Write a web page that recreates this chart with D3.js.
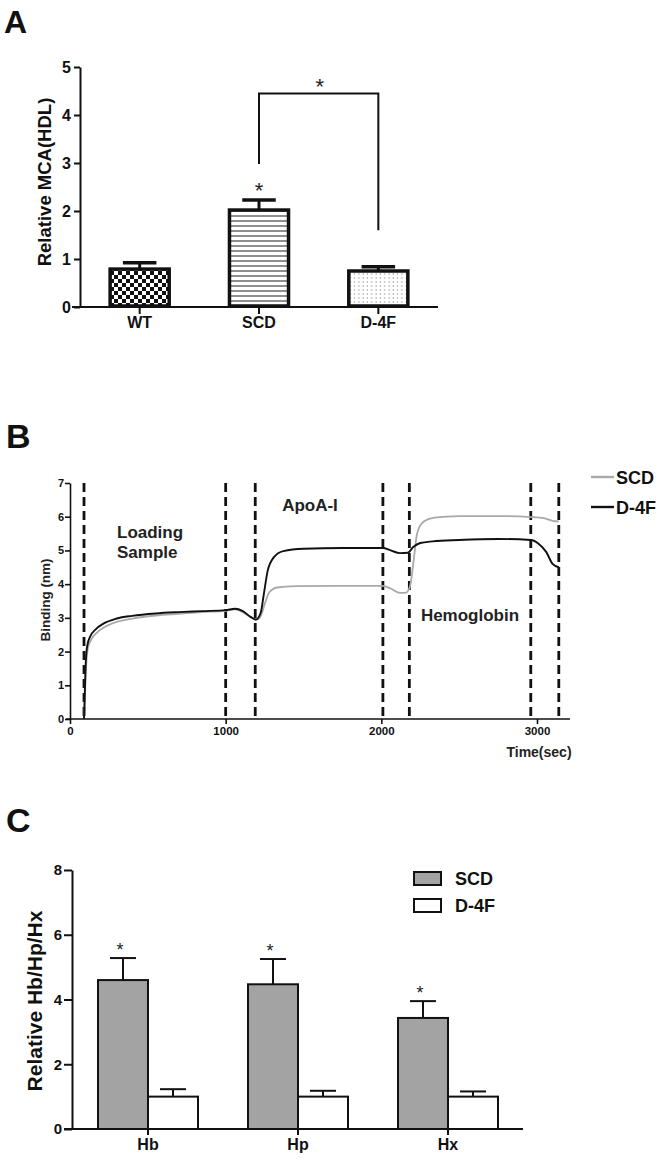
<!DOCTYPE html>
<html>
<head>
<meta charset="utf-8">
<script src="https://cdn.jsdelivr.net/npm/d3@7"></script>
<style>
  body { margin: 0; background: #fff; }
  svg { display: block; font-family: "Liberation Sans", Arial, sans-serif; }
  .axis text { font-weight: bold; fill: #111; }
  .axis path, .axis line { stroke: #111; }
</style>
</head>
<body>
<script>
// panel A: relative MCA of HDL
const mcaGroups = ['WT', 'SCD', 'D-4F'];
const mcaMeans = [0.79, 2.02, 0.75];
const mcaErrors = [0.13, 0.21, 0.09];
const mcaTicks = [0, 1, 2, 3, 4, 5];

// panel B: binding traces, [time (sec), binding (nm)]
const scdTrace = [
  [90, 0], [95, 0.5], [100, 1.2], [106, 1.75], [115, 2.1], [135, 2.35], [170, 2.55],
  [220, 2.72], [300, 2.88], [400, 2.98], [550, 3.07], [700, 3.12], [850, 3.17],
  [1000, 3.21], [1060, 3.25], [1110, 3.17], [1160, 3.02], [1195, 2.95], [1225, 3.05],
  [1250, 3.4], [1280, 3.75], [1330, 3.9], [1450, 3.94], [1700, 3.95], [2010, 3.95],
  [2060, 3.87], [2120, 3.74], [2160, 3.75], [2185, 3.95], [2205, 4.6], [2230, 5.5],
  [2270, 5.85], [2340, 5.97], [2500, 6.02], [2750, 6.02], [2960, 5.99], [3050, 5.95],
  [3100, 5.88], [3140, 5.86]
];
const d4fTrace = [
  [90, 0], [94, 0.6], [99, 1.4], [104, 1.9], [112, 2.2], [130, 2.45], [165, 2.66],
  [215, 2.83], [300, 2.98], [400, 3.06], [550, 3.13], [700, 3.17], [850, 3.2],
  [1000, 3.23], [1060, 3.27], [1110, 3.2], [1160, 3.03], [1195, 2.95], [1225, 3.15],
  [1245, 3.7], [1270, 4.4], [1310, 4.8], [1370, 4.98], [1500, 5.05], [1750, 5.07],
  [2010, 5.07], [2060, 5.0], [2120, 4.92], [2170, 4.93], [2205, 5.1], [2250, 5.22],
  [2330, 5.27], [2500, 5.31], [2750, 5.34], [2960, 5.31], [3010, 5.2], [3060, 4.95],
  [3100, 4.6], [3140, 4.5]
];
const phaseMarks = [90, 1000, 1190, 2010, 2180, 2960, 3140];
const bindingTicks = [0, 1, 2, 3, 4, 5, 6, 7];
const timeTicks = [0, 1000, 2000, 3000];
const traceNames = ['SCD', 'D-4F'];
const traceColors = ['#a9a9a9', '#111111'];

// panel C: relative Hb/Hp/Hx
const hemeTargets = ['Hb', 'Hp', 'Hx'];
const hemeSeries = ['SCD', 'D-4F'];
const hemeSCD = [4.6, 4.47, 3.43];
const hemeSCDErr = [0.68, 0.78, 0.52];
const hemeD4F = [1.0, 1.0, 1.0];
const hemeD4FErr = [0.23, 0.18, 0.16];
const hemeTicks = [0, 2, 4, 6, 8];
const hemeColors = ['#a3a3a3', '#ffffff'];

const fmtInt = d3.format('d');

const svg = d3.select('body').append('svg')
  .attr('width', 666)
  .attr('height', 1162);

const defs = svg.append('defs');

// checkerboard for WT
const chk = defs.append('pattern')
  .attr('id', 'pat-chk').attr('patternUnits', 'userSpaceOnUse')
  .attr('width', 8).attr('height', 8).attr('x', 110).attr('y', 271);
chk.append('rect').attr('width', 8).attr('height', 8).attr('fill', '#fff');
chk.append('rect').attr('width', 4).attr('height', 4).attr('fill', '#111');
chk.append('rect').attr('x', 4).attr('y', 4).attr('width', 4).attr('height', 4).attr('fill', '#111');

// horizontal stripes for SCD
const stp = defs.append('pattern')
  .attr('id', 'pat-stripe').attr('patternUnits', 'userSpaceOnUse')
  .attr('width', 8).attr('height', 5);
stp.append('rect').attr('width', 8).attr('height', 5).attr('fill', '#fff');
stp.append('line').attr('x1', 0).attr('x2', 8).attr('y1', 1).attr('y2', 1)
  .attr('stroke', '#333').attr('stroke-width', 1.1);

// dots for D-4F
const dot = defs.append('pattern')
  .attr('id', 'pat-dot').attr('patternUnits', 'userSpaceOnUse')
  .attr('width', 4.3).attr('height', 4);
dot.append('rect').attr('width', 4.3).attr('height', 4).attr('fill', '#fff');
dot.append('circle').attr('cx', 2).attr('cy', 2).attr('r', 0.65).attr('fill', '#888');

const mcaFills = ['url(#pat-chk)', 'url(#pat-stripe)', 'url(#pat-dot)'];

function panelLetter(txt, x, y, size) {
  svg.append('text')
    .attr('x', x).attr('y', y)
    .attr('font-size', size).attr('font-weight', 'bold')
    .attr('fill', '#111')
    .text(txt);
}

function star(x, y, size) {
  svg.append('text')
    .attr('x', x).attr('y', y)
    .attr('text-anchor', 'middle')
    .attr('font-size', size)
    .attr('fill', '#222')
    .text('*');
}

// ---------- Panel A ----------
panelLetter('A', 4, 33, 32);

const xA = d3.scaleBand().domain(mcaGroups).range([80, 438]).paddingInner(0.48).paddingOuter(0.24);
const yA = d3.scaleLinear().domain([0, 5]).range([307, 67]);

const axA = svg.append('g').attr('class', 'axis')
  .attr('transform', 'translate(80,0)')
  .call(d3.axisLeft(yA).tickValues(mcaTicks).tickFormat(fmtInt).tickSize(6).tickSizeOuter(0).tickPadding(3));
axA.selectAll('text').attr('font-size', 16);
axA.selectAll('path, line').attr('stroke-width', 2);

const axAx = svg.append('g').attr('class', 'axis')
  .attr('transform', 'translate(0,307)')
  .call(d3.axisBottom(xA).tickSize(7).tickSizeOuter(0).tickPadding(3));
axAx.select('.domain').attr('d', 'M72,0H438');
axAx.selectAll('text').attr('font-size', 16);
axAx.selectAll('path, line').attr('stroke-width', 2);

svg.append('text')
  .attr('transform', 'translate(51,182) rotate(-90)')
  .attr('text-anchor', 'middle')
  .attr('font-size', 18.5).attr('font-weight', 'bold').attr('fill', '#111')
  .text('Relative MCA(HDL)');

const barsA = svg.append('g');
mcaGroups.forEach((g, i) => {
  const x0 = xA(g), w = xA.bandwidth(), cx = x0 + w / 2;
  // error bar first so the bar outline covers its foot
  barsA.append('line')
    .attr('x1', cx).attr('x2', cx)
    .attr('y1', yA(mcaMeans[i])).attr('y2', yA(mcaMeans[i] + mcaErrors[i]))
    .attr('stroke', '#111').attr('stroke-width', 3);
  barsA.append('line')
    .attr('x1', cx - w * 0.27).attr('x2', cx + w * 0.27)
    .attr('y1', yA(mcaMeans[i] + mcaErrors[i])).attr('y2', yA(mcaMeans[i] + mcaErrors[i]))
    .attr('stroke', '#111').attr('stroke-width', 3.5);
  barsA.append('rect')
    .attr('x', x0 + 1.5).attr('y', yA(mcaMeans[i]))
    .attr('width', w - 3).attr('height', yA(0) - yA(mcaMeans[i]) - 1)
    .attr('fill', mcaFills[i])
    .attr('stroke', '#111').attr('stroke-width', 3.5);
});

// significance marks
const cSCD = xA('SCD') + xA.bandwidth() / 2;
const cD4F = xA('D-4F') + xA.bandwidth() / 2;
star(cSCD, yA(2.23) - 2, 22);
svg.append('path')
  .attr('d', `M${cSCD},${yA(2.98)}V${yA(4.45)}H${cD4F}V${yA(1.6)}`)
  .attr('fill', 'none').attr('stroke', '#111').attr('stroke-width', 2);
star((cSCD + cD4F) / 2 + 1, yA(4.45) + 1, 22);

// ---------- Panel B ----------
panelLetter('B', 6, 448, 34);

const xB = d3.scaleLinear().domain([0, 3000]).range([70, 537]);
const yB = d3.scaleLinear().domain([0, 7]).range([719, 483]);

const axB = svg.append('g').attr('class', 'axis')
  .attr('transform', 'translate(70,0)')
  .call(d3.axisLeft(yB).tickValues(bindingTicks).tickFormat(fmtInt).tickSize(5).tickSizeOuter(0).tickPadding(1));
axB.selectAll('text').attr('font-size', 11);
axB.selectAll('path, line').attr('stroke-width', 1.6);

const axBx = svg.append('g').attr('class', 'axis')
  .attr('transform', 'translate(0,719)')
  .call(d3.axisBottom(xB).tickValues(timeTicks).tickFormat(fmtInt).tickSize(5).tickSizeOuter(0).tickPadding(3));
axBx.select('.domain').attr('d', 'M66,0H570');
axBx.selectAll('text').attr('font-size', 11.5);
axBx.selectAll('path, line').attr('stroke-width', 1.6);

svg.append('text')
  .attr('transform', 'translate(50,600) rotate(-90)')
  .attr('text-anchor', 'middle')
  .attr('font-size', 13.5).attr('font-weight', 'bold').attr('fill', '#222')
  .text('Binding (nm)');

svg.append('text')
  .attr('x', 539).attr('y', 757)
  .attr('text-anchor', 'middle')
  .attr('font-size', 14).attr('font-weight', 'bold').attr('fill', '#222')
  .text('Time(sec)');

svg.append('g').selectAll('line')
  .data(phaseMarks)
  .join('line')
  .attr('x1', d => xB(d)).attr('x2', d => xB(d))
  .attr('y1', yB(7)).attr('y2', yB(0))
  .attr('stroke', '#111').attr('stroke-width', 2.8)
  .attr('stroke-dasharray', '9,5');

const lineB = d3.line()
  .x(d => xB(d[0]))
  .y(d => yB(d[1]))
  .curve(d3.curveMonotoneX);

[scdTrace, d4fTrace].forEach((tr, i) => {
  svg.append('path')
    .datum(tr)
    .attr('d', lineB)
    .attr('fill', 'none')
    .attr('stroke', traceColors[i])
    .attr('stroke-width', i === 0 ? 1.8 : 1.9);
});

const phaseText = svg.append('g')
  .attr('font-size', 17).attr('font-weight', 'bold').attr('fill', '#222');
phaseText.append('text').attr('x', 117).attr('y', 538).text('Loading');
phaseText.append('text').attr('x', 117).attr('y', 558).text('Sample');
phaseText.append('text').attr('x', 310).attr('y', 511).attr('text-anchor', 'middle').text('ApoA-I');
phaseText.append('text').attr('x', 470).attr('y', 621).attr('text-anchor', 'middle').text('Hemoglobin');

const legB = svg.append('g');
traceNames.forEach((n, i) => {
  const ly = 477 + i * 30;
  legB.append('line')
    .attr('x1', 591).attr('x2', 614).attr('y1', ly).attr('y2', ly)
    .attr('stroke', traceColors[i]).attr('stroke-width', 2.4);
  legB.append('text')
    .attr('x', 616).attr('y', ly + 6.5)
    .attr('font-size', 18).attr('font-weight', 'bold').attr('fill', '#111')
    .text(n);
});

// ---------- Panel C ----------
panelLetter('C', 6, 832, 34);

const xC = d3.scaleBand().domain(hemeTargets).range([73, 523]).paddingInner(1 / 3).paddingOuter(1 / 6);
const xCin = d3.scaleBand().domain(hemeSeries).range([0, xC.bandwidth()]);
const yC = d3.scaleLinear().domain([0, 8]).range([1129, 870]);

const axC = svg.append('g').attr('class', 'axis')
  .attr('transform', 'translate(72,0)')
  .call(d3.axisLeft(yC).tickValues(hemeTicks).tickFormat(fmtInt).tickSize(8).tickSizeOuter(0).tickPadding(2));
axC.selectAll('text').attr('font-size', 15);
axC.selectAll('path, line').attr('stroke-width', 2);

const axCx = svg.append('g').attr('class', 'axis')
  .attr('transform', 'translate(0,1129)')
  .call(d3.axisBottom(xC).tickSize(6).tickSizeOuter(0).tickPadding(4));
axCx.select('.domain').attr('d', 'M64,0H523');
axCx.selectAll('text').attr('font-size', 16);
axCx.selectAll('path, line').attr('stroke-width', 2);

svg.append('text')
  .attr('transform', 'translate(42,1001) rotate(-90)')
  .attr('text-anchor', 'middle')
  .attr('font-size', 21).attr('font-weight', 'bold').attr('fill', '#111')
  .text('Relative Hb/Hp/Hx');

const hemeVals = [hemeSCD, hemeD4F];
const hemeErrs = [hemeSCDErr, hemeD4FErr];
const barsC = svg.append('g');
hemeTargets.forEach((t, i) => {
  hemeSeries.forEach((s, j) => {
    const x0 = xC(t) + xCin(s), w = xCin.bandwidth(), cx = x0 + w / 2;
    const v = hemeVals[j][i], e = hemeErrs[j][i];
    barsC.append('line')
      .attr('x1', cx).attr('x2', cx)
      .attr('y1', yC(v)).attr('y2', yC(v + e))
      .attr('stroke', '#111').attr('stroke-width', 2);
    barsC.append('line')
      .attr('x1', cx - w * 0.26).attr('x2', cx + w * 0.26)
      .attr('y1', yC(v + e)).attr('y2', yC(v + e))
      .attr('stroke', '#111').attr('stroke-width', 2);
    barsC.append('rect')
      .attr('x', x0).attr('y', yC(v))
      .attr('width', w).attr('height', yC(0) - yC(v))
      .attr('fill', hemeColors[j])
      .attr('stroke', '#111').attr('stroke-width', 2);
    if (j === 0) star(cx - 3, yC(v + e) - 2, 18);
  });
});

const legC = svg.append('g');
hemeSeries.forEach((s, j) => {
  const ly = 872 + j * 27;
  legC.append('rect')
    .attr('x', 414).attr('y', ly)
    .attr('width', 27).attr('height', 13)
    .attr('fill', hemeColors[j])
    .attr('stroke', '#111').attr('stroke-width', 2);
  legC.append('text')
    .attr('x', 455).attr('y', ly + 13)
    .attr('font-size', 18).attr('font-weight', 'bold').attr('fill', '#111')
    .text(s);
});
</script>
</body>
</html>
